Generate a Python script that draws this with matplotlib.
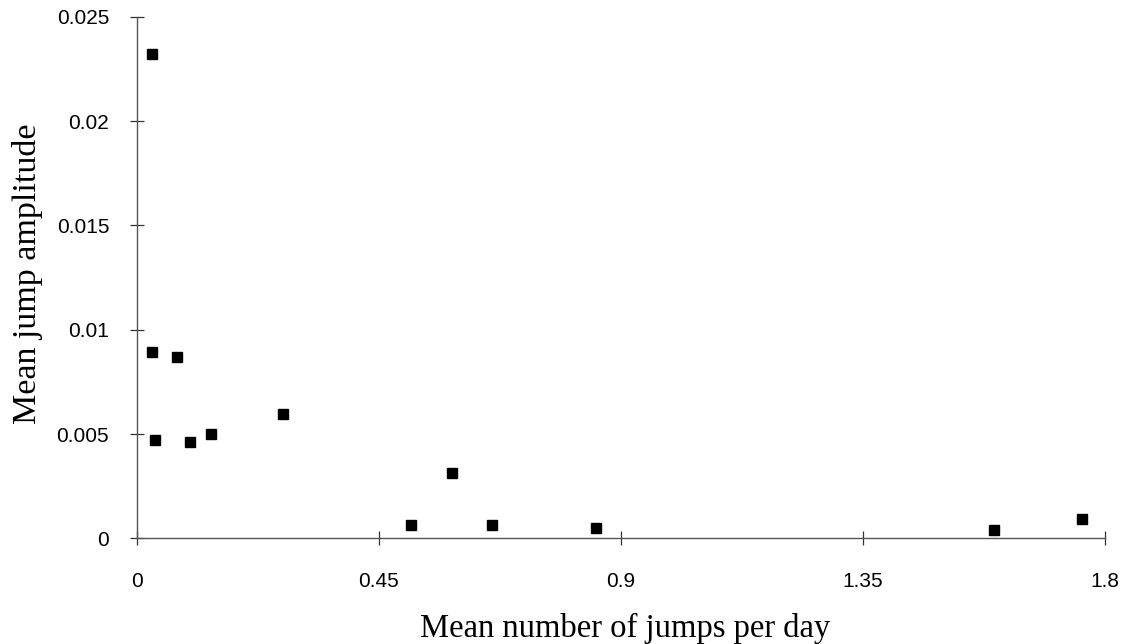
import matplotlib
matplotlib.use("Agg")
import matplotlib.pyplot as plt

# mean number of jumps per day vs mean jump amplitude
jumps_per_day = [0.028, 0.027, 0.075, 0.034, 0.098, 0.137, 0.271,
                 0.510, 0.585, 0.660, 0.853, 1.593, 1.758]
jump_amplitude = [0.0232, 0.00895, 0.00868, 0.00473, 0.0046, 0.0050, 0.00597,
                  0.00064, 0.00312, 0.00065, 0.00048, 0.0004, 0.00093]

x_ticks = [0, 0.45, 0.9, 1.35, 1.8]
x_tick_labels = ["0", "0.45", "0.9", "1.35", "1.8"]
y_ticks = [0, 0.005, 0.01, 0.015, 0.02, 0.025]
y_tick_labels = ["0", "0.005", "0.01", "0.015", "0.02", "0.025"]

fig = plt.figure(figsize=(11.21, 6.44), dpi=100)
ax = fig.add_axes([0.1222, 0.1641, 0.8635, 0.8098])

ax.plot(jumps_per_day, jump_amplitude, linestyle="none", marker="s",
        markersize=7, color="black")

ax.set_xlim(0, 1.8)
ax.set_ylim(0, 0.025)
ax.set_xticks(x_ticks)
ax.set_xticklabels(x_tick_labels)
ax.set_yticks(y_ticks)
ax.set_yticklabels(y_tick_labels)

for side in ["top", "right"]:
    ax.spines[side].set_visible(False)
for side in ["left", "bottom"]:
    ax.spines[side].set_color("#555555")
    ax.spines[side].set_linewidth(1.0)

ax.tick_params(axis="both", direction="inout", length=10, width=0.9,
               color="#333333", labelsize=15,
               labelfontfamily="Liberation Sans")
ax.tick_params(axis="x", pad=19)
ax.tick_params(axis="y", pad=15)

ax.set_xlabel("Mean number of jumps per day", family="Liberation Serif",
              fontsize=23.5, va="baseline")
ax.xaxis.set_label_coords(0.504, -0.189)
ax.set_ylabel("Mean jump amplitude", family="Liberation Serif",
              fontsize=24.5, va="center")
ax.yaxis.set_label_coords(-0.113, 0.507)

fig.savefig("out.png", dpi=100)
